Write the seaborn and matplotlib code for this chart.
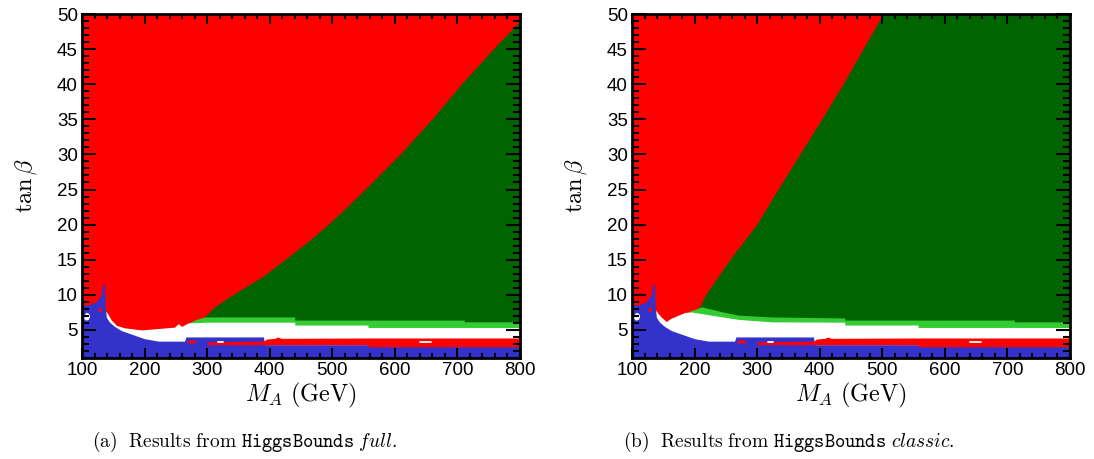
import matplotlib
matplotlib.use("Agg")
import matplotlib.pyplot as plt
import seaborn as sns
from matplotlib.ticker import MultipleLocator

# ---------------- data ----------------
XLIM = [100, 800]
YLIM = [1, 50]
x_major = list(range(100, 801, 100))
y_major = list(range(5, 51, 5))

# red / dark-green boundary (top of the dark-green allowed region)
full_dg_x = [296, 312, 344, 387, 424, 460, 493, 523, 552, 580, 608, 659, 706, 757, 800]
full_dg_top = [6.9, 8.3, 10.2, 12.5, 15, 17.5, 20, 22.5, 25, 27.5, 30, 35, 40, 45, 49]
classic_dg_x = [203, 208, 219, 256, 299, 333, 368, 403, 437, 469, 501, 800]
classic_dg_top = [8.0, 8.3, 10.2, 15, 20, 25, 30, 35, 40, 45, 50, 50]

# light-green band: upper edge
full_lg_x = [270, 283, 296, 440, 440, 711, 711, 800]
full_lg_top = [6.0, 6.5, 6.85, 6.85, 6.4, 6.4, 6.15, 6.15]
classic_lg_x = [190, 203, 211, 243, 270, 323, 440, 440, 711, 711, 800]
classic_lg_top = [7.6, 8.0, 8.3, 7.6, 7.1, 6.85, 6.7, 6.4, 6.4, 6.15, 6.15]

# white band: upper edge
full_w_x = [136, 141, 147, 155, 168, 195, 222, 248, 254, 259, 270, 300, 440, 440, 557, 557, 800]
full_w_top = [7.9, 7.3, 6.4, 5.65, 5.3, 5.0, 5.2, 5.4, 5.9, 5.5, 6.0, 6.1, 6.1, 5.7, 5.7, 5.35, 5.35]
classic_w_x = [136, 142, 147, 155, 161, 174, 185, 195, 227, 270, 323, 440, 440, 557, 557, 800]
classic_w_top = [8.0, 7.3, 6.8, 6.2, 6.6, 7.1, 7.5, 7.55, 7.1, 6.5, 6.15, 6.1, 5.7, 5.7, 5.35, 5.35]

# blue region: upper edge (same in both panels)
blue_x = [100, 107, 115, 123, 130, 133.5, 136, 137, 139, 144, 152, 163, 179, 200, 222, 264, 266, 390, 392, 800]
blue_top = [8.7, 8.5, 8.7, 9.0, 9.9, 11.6, 11.4, 8.3, 6.8, 6.1, 5.5, 4.9, 4.4, 3.75, 3.4, 3.4, 4.0, 4.0, 2.9, 2.9]

# low tan(beta) red stripe
stripe_x = [300, 390, 395, 408, 413, 418, 557, 557, 800]
stripe_top = [3.3, 3.4, 3.7, 3.8, 4.0, 3.8, 3.85, 3.85, 3.85]
stripe_bot = [2.9, 2.9, 2.9, 2.9, 2.9, 2.9, 2.9, 2.6, 2.6]

# small islands
wpatch_x = [103, 106, 110, 112]
wpatch_lo = [6.6, 6.4, 6.5, 6.9]
wpatch_hi = [7.1, 7.5, 7.4, 7.1]
rbit1_x = [126, 128, 131]
rbit1_lo = [7.7, 7.6, 7.8]
rbit1_hi = [8.1, 8.3, 8.2]
rbit2_x = [268, 275, 282]
rbit2_lo = [3.2, 3.1, 3.2]
rbit2_hi = [3.5, 3.6, 3.5]
dash_x0 = [317, 640]
dash_x1 = [325, 658]
dash_y = [3.35, 3.35]

captions = [r"$\mathrm{(a)\ \ Results\ from\ }\mathtt{HiggsBounds}\ \mathit{full.}$",
            r"$\mathrm{(b)\ \ Results\ from\ }\mathtt{HiggsBounds}\ \mathit{classic.}$"]

# ---------------- style ----------------
RED = "#ff0000"
DGREEN = "#006400"
LGREEN = "#33cc33"
BLUE = "#3333cc"

sns.set_theme(style="ticks")
plt.rcParams["font.family"] = ["Liberation Sans", "DejaVu Sans"]
plt.rcParams["mathtext.fontset"] = "cm"
plt.rcParams["axes.axisbelow"] = False

fig = plt.figure(figsize=(10.94, 4.59), dpi=100)
W, H = 1094, 459
ax1 = fig.add_axes([82 / W, 101 / H, 438 / W, 344 / H])
ax2 = fig.add_axes([632 / W, 101 / H, 438 / W, 344 / H])


def draw(ax, dg_x, dg_top, lg_x, lg_top, w_x, w_top):
    ax.set_axisbelow(False)
    ax.set_facecolor(RED)
    ax.fill_between(dg_x, YLIM[0], dg_top, color=DGREEN, lw=0)
    ax.fill_between(lg_x, YLIM[0], lg_top, color=LGREEN, lw=0)
    ax.fill_between(w_x, YLIM[0], w_top, color="white", lw=0)
    ax.fill_between(blue_x, YLIM[0], blue_top, color=BLUE, lw=0)
    ax.fill_between(stripe_x, stripe_bot, stripe_top, color=RED, lw=0)
    ax.fill_between(wpatch_x, wpatch_lo, wpatch_hi, color="white", lw=0)
    ax.fill_between(rbit1_x, rbit1_lo, rbit1_hi, color=RED, lw=0)
    ax.fill_between(rbit2_x, rbit2_lo, rbit2_hi, color=RED, lw=0)
    for x0, x1, y in zip(dash_x0, dash_x1, dash_y):
        sns.lineplot(x=[x0, x1], y=[y, y], ax=ax, color="white", lw=1.3)

    ax.set_xlim(XLIM)
    ax.set_ylim(YLIM)
    ax.set_xticks(x_major)
    ax.set_yticks(y_major)
    ax.xaxis.set_minor_locator(MultipleLocator(20))
    ax.yaxis.set_minor_locator(MultipleLocator(1))
    ax.tick_params(which="both", direction="in", top=True, right=True,
                   width=1.5, color="black", labelcolor="black",
                   labelsize=13.5, pad=3)
    ax.tick_params(axis="y", which="major", length=10)
    ax.tick_params(axis="y", which="minor", length=5)
    ax.tick_params(axis="x", which="major", length=7.5)
    ax.tick_params(axis="x", which="minor", length=3.8)
    for s in ax.spines.values():
        s.set_linewidth(2)
        s.set_color("black")
        s.set_zorder(5)
    ax.set_xlabel(r"$M_A\ \mathrm{(GeV)}$", fontsize=17.5, labelpad=1, color="black")
    ax.set_ylabel(r"$\tan\beta$", fontsize=17.5, labelpad=13, color="black")
    ax.grid(False)


draw(ax1, full_dg_x, full_dg_top, full_lg_x, full_lg_top, full_w_x, full_w_top)
draw(ax2, classic_dg_x, classic_dg_top, classic_lg_x, classic_lg_top, classic_w_x, classic_w_top)

fig.text(92 / W, 1 - 442 / H, captions[0], fontsize=14, ha="left", va="center", color="black")
fig.text(623 / W, 1 - 442 / H, captions[1], fontsize=14, ha="left", va="center", color="black")

fig.savefig("out.png", dpi=100)
